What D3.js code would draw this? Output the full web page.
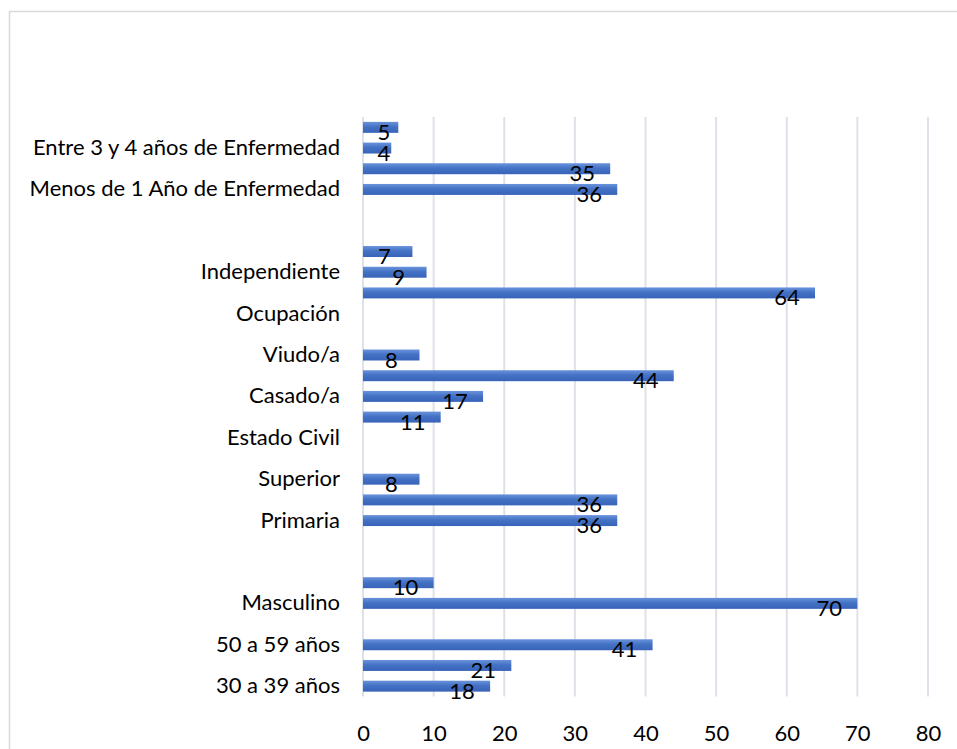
<!DOCTYPE html>
<html lang="es">
<head>
  <meta charset="UTF-8" />
  <title>Características de los pacientes</title>
  <script src="https://cdn.jsdelivr.net/npm/d3@7"></script>
  <style>
    html, body { margin: 0; padding: 0; background: #fff; overflow: hidden; }
    svg { display: block; }
    text { font-family: Lato, "Open Sans", sans-serif; fill: #000; }
  </style>
</head>
<body>
  <script>
    // Categories in chart order (first one drawn at the bottom).
    // Only every other label is shown on the axis, as in the original.
    const categories = [
      "30 a 39 años", "40 a 49 años", "50 a 59 años", "Sexo",
      "Masculino", "Femenino", "", "Escolaridad",
      "Primaria", "Secundaria", "Superior", "",
      "Estado Civil", "Soltero/a", "Casado/a", "Unión libre",
      "Viudo/a", " ", "Ocupación", "Empleado",
      "Independiente", "Desempleado", "  ", "Tiempo de Enfermedad",
      "Menos de 1 Año de Enfermedad", "Entre 1 y 2 años de Enfermedad",
      "Entre 3 y 4 años de Enfermedad", "Más de 4 años de Enfermedad"
    ];
    const values = [
      18, 21, 41, null,
      70, 10, null, null,
      36, 36, 8, null,
      null, 11, 17, 44,
      8, null, null, 64,
      9, 7, null, null,
      36, 35, 4, 5
    ];
    const xTicks = [0, 10, 20, 30, 40, 50, 60, 70, 80];

    const width = 957, height = 749;
    const plot = { left: 363, right: 928, top: 117, bottom: 696.5 };
    const fontSize = 22;

    const svg = d3.select("body").append("svg")
      .attr("width", width)
      .attr("height", height);

    // chart frame (right and bottom edges fall outside the picture)
    svg.append("rect")
      .attr("x", 9.5).attr("y", 11.5)
      .attr("width", 980).attr("height", 780)
      .attr("fill", "none")
      .attr("stroke", "#d9d9d9")
      .attr("stroke-width", 1.5);

    const x = d3.scaleLinear().domain([0, 80]).range([plot.left, plot.right]);
    const idx = d3.range(categories.length);
    const y = d3.scaleBand()
      .domain(idx)
      .range([plot.bottom, plot.top])
      .paddingInner(0.47)
      .paddingOuter(0.235);

    const defs = svg.append("defs");
    const grad = defs.append("linearGradient")
      .attr("id", "barGrad")
      .attr("x1", 0).attr("y1", 0).attr("x2", 0).attr("y2", 1);
    grad.append("stop").attr("offset", "0%").attr("stop-color", "#6a93dc");
    grad.append("stop").attr("offset", "45%").attr("stop-color", "#4472c4");
    grad.append("stop").attr("offset", "100%").attr("stop-color", "#3863b9");

    // vertical gridlines
    svg.append("g")
      .selectAll("line")
      .data(xTicks)
      .join("line")
        .attr("x1", d => x(d)).attr("x2", d => x(d))
        .attr("y1", plot.top).attr("y2", plot.bottom)
        .attr("stroke", "#dde1e8")
        .attr("stroke-width", 2);

    // bars
    const rows = idx.filter(i => values[i] != null);
    svg.append("g")
      .selectAll("rect")
      .data(rows)
      .join("rect")
        .attr("x", x(0))
        .attr("y", i => y(i))
        .attr("width", i => x(values[i]) - x(0))
        .attr("height", y.bandwidth())
        .attr("fill", "url(#barGrad)");

    // data labels, placed near the inner end of each bar
    svg.append("g")
      .selectAll("text")
      .data(rows)
      .join("text")
        .attr("x", i => Math.max(x(values[i]) - 28, x(0) + 21))
        .attr("y", i => y(i) + y.bandwidth() / 2 + 4)
        .attr("text-anchor", "middle")
        .attr("dominant-baseline", "central")
        .attr("font-size", fontSize)
        .text(i => values[i]);

    // category axis
    const yAxis = d3.axisLeft(y)
      .tickValues(idx.filter(i => i % 2 === 0))
      .tickFormat(i => categories[i].trim())
      .tickSize(0)
      .tickPadding(23);
    svg.append("g")
      .attr("transform", `translate(${plot.left},0)`)
      .call(yAxis)
      .call(g => g.select(".domain").remove())
      .call(g => g.selectAll("text")
        .attr("font-size", fontSize)
        .style("font-family", "Lato, 'Open Sans', sans-serif")
        .attr("fill", "#000"));

    // value axis
    const xAxis = d3.axisBottom(x)
      .tickValues(xTicks)
      .tickSize(0)
      .tickPadding(29);
    svg.append("g")
      .attr("transform", `translate(0,${plot.bottom})`)
      .call(xAxis)
      .call(g => g.select(".domain").remove())
      .call(g => g.selectAll("text")
        .attr("font-size", fontSize)
        .style("font-family", "Lato, 'Open Sans', sans-serif")
        .attr("fill", "#000"));
  </script>
</body>
</html>
